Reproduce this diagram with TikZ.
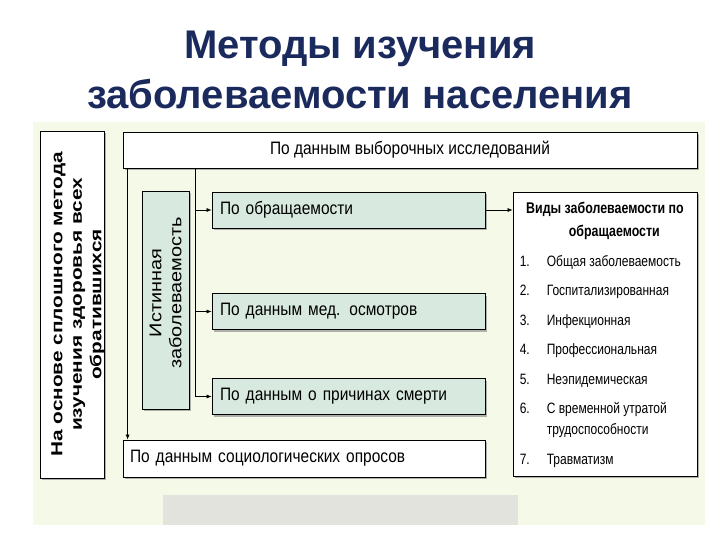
\documentclass[tikz,border=0pt]{standalone}
\usepackage{fontspec}
\setmainfont{Liberation Sans}
\newfontfamily\narrowfont[FakeStretch=0.86]{Liberation Sans}
\newfontfamily\listfont[FakeStretch=0.8]{Liberation Sans}
\newfontfamily\widefont[FakeStretch=1.3]{Liberation Sans}
\newfontfamily\midfont[FakeStretch=1.17]{Liberation Sans}
\usetikzlibrary{arrows.meta, positioning, shadows}
\definecolor{titlenavy}{RGB}{27,42,92}
\definecolor{slidebg}{RGB}{244,249,232}
\definecolor{boxmint}{RGB}{216,234,223}
\definecolor{footgrey}{RGB}{227,227,221}
\tikzset{
  plainbox/.style={draw=black, thick, fill=white, inner sep=0pt,
    drop shadow={shadow xshift=2pt, shadow yshift=-2pt, fill=black!50, opacity=.6}},
  mintbox/.style={plainbox, fill=boxmint},
  rowtext/.style={font=\narrowfont\fontsize{18}{21}\selectfont},
  link/.style={-{Latex[length=5pt,width=4pt]}, semithick},
}

\begin{document}
\begin{tikzpicture}[x=1pt, y=-1pt]
  \useasboundingbox (0,0) rectangle (720,540);

  % title
  \node[font=\bfseries\fontsize{40}{50}\selectfont, text=titlenavy, align=center]
       (title) at (360,70) {Методы изучения\\заболеваемости населения};

  % slide area
  \fill[slidebg] (33,122) rectangle (705,525);
  \fill[footgrey] (163,495) rectangle (518,525);

  % whole-population box (left)
  \node[plainbox, minimum width=64, minimum height=347] (whole) at (72,304.5) {};
  \node[rotate=90, align=center, inner sep=0pt,
        font=\bfseries\widefont\fontsize{16}{19.5}\selectfont]
       (wholetext) at ([xshift=6pt]whole.center) {На основе сплошного метода\\изучения здоровья всех\\обратившихся};

  % sample studies
  \node[plainbox, rowtext, minimum width=574, minimum height=36]
       (sample) at (410,150) {По данным выборочных исследований};

  % true morbidity
  \node[mintbox, minimum width=47, minimum height=218] (truemorb) at (165.5,300) {};
  \node[rotate=90, align=center, inner sep=0pt, font=\midfont\fontsize{17}{20}\selectfont]
       (truetext) at ([yshift=7pt]truemorb.center) {Истинная\\заболеваемость};

  % three sources
  \node[mintbox, rowtext, text width=257, inner xsep=8, minimum height=36, align=left]
       (visit) at (348.5,210) {По обращаемости};
  \node[mintbox, rowtext, text width=257, inner xsep=8, minimum height=36, align=left]
       (checkup) at (348.5,311.5) {По данным мед. осмотров};
  \node[mintbox, rowtext, text width=257, inner xsep=8, minimum height=36, align=left]
       (death) at (348.5,396.5) {По данным о причинах смерти};

  % sociological polls
  \node[plainbox, rowtext, text width=348, inner xsep=7, minimum height=37, align=left]
       (poll) at (304,458.5) {По данным социологических опросов};

  % kinds of morbidity (right)
  \node[plainbox, minimum width=184, minimum height=284] (kinds) at (605,334) {};
  \node[anchor=north, align=center, inner sep=0pt,
        font=\bfseries\listfont\fontsize{15.5}{23}\selectfont]
       (kindshead) at ([yshift=-10pt]kinds.north) {Виды заболеваемости по\\\hspace*{1.2em}обращаемости};
  \node[anchor=north west, inner sep=0pt, font=\listfont\fontsize{15}{18}\selectfont]
       (kindslist) at ([xshift=7pt, yshift=-62pt]kinds.north west) {%
    \begin{tabular}{@{}l@{\hspace{17pt}}l@{}}
      1. & Общая заболеваемость\\[11.5pt]
      2. & Госпитализированная\\[11.5pt]
      3. & Инфекционная\\[11.5pt]
      4. & Профессиональная\\[11.5pt]
      5. & Неэпидемическая\\[11.5pt]
      6. & С временной утратой\\[3pt]
         & трудоспособности\\[11.5pt]
      7. & Травматизм
    \end{tabular}};

  % connectors
  \coordinate (trunk) at ([xshift=73pt]sample.south west);
  \draw[link] ([xshift=5pt]sample.south west) -- ([xshift=5pt]poll.north west);
  \draw[link] (trunk) |- (visit.west);
  \draw[link] (trunk) |- (checkup.west);
  \draw[link] (trunk) |- (death.west);
  \draw[link] (visit.east) -- (visit.east -| kinds.west);
\end{tikzpicture}
\end{document}
